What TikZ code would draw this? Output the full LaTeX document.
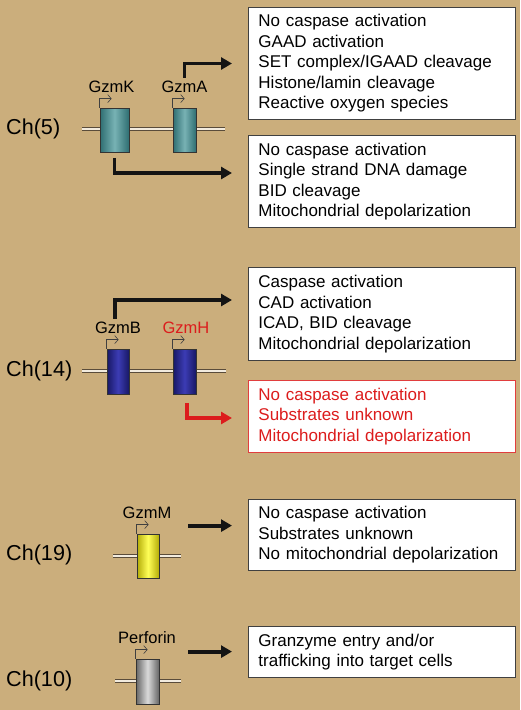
\documentclass[tikz,border=0pt]{standalone}
\usepackage{fontspec}
\setmainfont{Liberation Sans}
\usetikzlibrary{positioning,arrows.meta,calc}
\definecolor{tanbg}{HTML}{CBAE7C}
\definecolor{fxred}{HTML}{DC1C1C}
\definecolor{chromline}{HTML}{5A4C3A}
\definecolor{tealdk}{HTML}{2F6E72}
\definecolor{teallt}{HTML}{78B2B4}
\definecolor{bluedk}{HTML}{181866}
\definecolor{bluelt}{HTML}{3C3CB4}
\definecolor{yeldk}{HTML}{B4AC08}
\definecolor{yellt}{HTML}{FFFF58}
\definecolor{greydk}{HTML}{666666}
\definecolor{greylt}{HTML}{DADADA}
\tikzset{
    chlab/.style = {
        anchor=west,
        inner sep=0pt,
        font=\fontsize{21.6}{24}\selectfont
    },
    genelab/.style = {
        inner sep=1pt,
        font=\fontsize{16.5}{18}\selectfont
    },
    exon/.style 2 args = {
        draw=black!80,
        line width=0.8pt,
        left color=#1,
        right color=#1,
        middle color=#2,
        minimum width=23pt,
        minimum height=44pt,
        inner sep=0pt
    },
    chrom/.style = {
        draw=chromline,
        line width=0.8pt,
        double=white!75!tanbg,
        double distance=1.5pt
    },
    promoter/.style = {
        draw=black!75,
        line width=0.6pt,
        -{Straight Barb[length=3.5pt,width=8pt]}
    },
    fxbox/.style = {
        draw=black!75,
        fill=white,
        line width=0.9pt,
        anchor=west,
        text width=247pt,
        align=left,
        inner xsep=10pt,
        inner ysep=7.5pt,
        font=\fontsize{17}{20.5}\selectfont
    },
    fxarrow/.style = {
        draw=#1,
        line width=3.8pt,
        line join=miter,
        -{Triangle[length=11pt,width=12pt]}
    },
    fxarrow/.default=black!92,
}

\begin{document}
\begin{tikzpicture}[x=1pt,y=-1pt]
                \fill[tanbg] (0,0) rectangle (520,710);
                \useasboundingbox (0,0) rectangle (520,710);

                % chromosomes
                \node[chlab] (ch5) at (6,129) {Ch(5)};
                \node[chlab] (ch14) at (6,371) {Ch(14)};
                \node[chlab] (ch19) at (6,555) {Ch(19)};
                \node[chlab] (ch10) at (6,681) {Ch(10)};
                \draw[chrom] (82,129) -- (225,129);
                \draw[chrom] (82,371) -- (226,371);
                \draw[chrom] (113,556) -- (181,556);
                \draw[chrom] (115,681) -- (181,681);

                % genes
                \node[exon={tealdk}{teallt}, minimum width=29pt] (gzmk) at (114.5,130) {};
                \node[exon={tealdk}{teallt}] (gzma) at (184.5,130) {};
                \node[exon={bluedk}{bluelt}, minimum width=22pt, minimum height=45pt] (gzmb) at (118,371.5) {};
                \node[exon={bluedk}{bluelt}, minimum height=45pt] (gzmh) at (184.5,371.5) {};
                \node[exon={yeldk}{yellt}, minimum width=22pt] (gzmm) at (148,556) {};
                \node[exon={greydk}{greylt}, minimum height=45pt] (prf) at (147.5,681.5) {};
                \foreach \g in {gzmk,gzma,gzmb,gzmh,gzmm,prf}
                    \draw[promoter] (\g.north west) -- ++(0,-9) -- ++(12,0);

                \node[genelab] (gzmklab) at (111.5,87) {GzmK};
                \node[genelab] (gzmalab) at (184.5,87) {GzmA};
                \node[genelab] (gzmblab) at (118,328) {GzmB};
                \node[genelab, text=fxred] (gzmhlab) at (186,328) {GzmH};
                \node[genelab] (gzmmlab) at (147,513) {GzmM};
                \node[genelab] (prflab) at (147,638) {Perforin};

                % effects
                \node[fxbox] (fxA) at (248,63.5) {No caspase activation\\GAAD activation\\SET complex/IGAAD cleavage\\Histone/lamin cleavage\\Reactive oxygen species};
                \node[fxbox] (fxK) at (248,181.5) {No caspase activation\\Single strand DNA damage\\BID cleavage\\Mitochondrial depolarization};
                \node[fxbox] (fxB) at (248,314) {Caspase activation\\CAD activation\\ICAD, BID cleavage\\Mitochondrial depolarization};
                \node[fxbox, draw=fxred!85!white, text=fxred] (fxH) at (248,416.5) {No caspase activation\\Substrates unknown\\Mitochondrial depolarization};
                \node[fxbox] (fxM) at (248,535) {No caspase activation\\Substrates unknown\\No mitochondrial depolarization};
                \node[fxbox] (fxP) at (248,652) {Granzyme entry and/or\\trafficking into target cells};

                \path[fxarrow, shorten <=2pt, shorten >=16pt] (gzmalab.north) |- (fxA.west);
                \path[fxarrow, shorten <=5.5pt, shorten >=16pt] (gzmk.south) |- ([yshift=8.5pt]fxK.west);
                \path[fxarrow, shorten <=2pt, shorten >=16pt] (gzmblab.north) ++(-3,0) |- ([yshift=14pt]fxB.west);
                \path[fxarrow=fxred, shorten <=9pt, shorten >=16pt] ([xshift=2.5pt]gzmh.south) |- ([yshift=-1.5pt]fxH.west);
                \path[fxarrow] ([xshift=29pt,yshift=8pt]gzmm.north east) -- ([xshift=-16pt,yshift=8pt]gzmm.north east -| fxM.west);
                \path[fxarrow] ([xshift=29pt,yshift=7pt]prf.north east) -- ([xshift=-16pt,yshift=7pt]prf.north east -| fxP.west);
            \end{tikzpicture}
\end{document}
